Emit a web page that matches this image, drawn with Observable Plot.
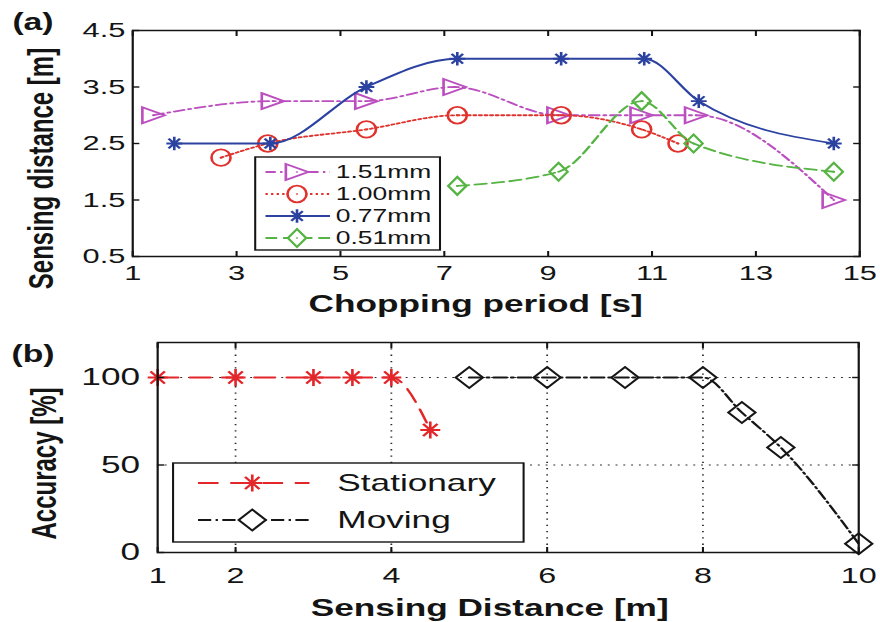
<!DOCTYPE html>
<html><head><meta charset="utf-8">
<script src="https://cdn.jsdelivr.net/npm/d3@7"></script>
<script src="https://cdn.jsdelivr.net/npm/@observablehq/plot@0.6"></script>
<style>
html,body{margin:0;padding:0;background:#fff;}
#wrap{position:relative;width:880px;height:622px;overflow:hidden;background:#fff;}
#wrap svg{display:block;}
</style></head><body><div id="wrap"></div>
<script>
// ---------- data: panel (a) ----------
const seriesNames = ["1.51mm", "1.00mm", "0.77mm", "0.51mm"];
const period151 = [1.4, 3.7, 5.5, 7.2, 9.2, 10.8, 11.85, 14.5];
const dist151   = [3.0, 3.25, 3.25, 3.5, 3.0, 3.0, 3.0, 1.5];
const period100 = [2.7, 3.6, 5.5, 7.25, 9.25, 10.8, 11.5];
const dist100   = [2.25, 2.5, 2.75, 3.0, 3.0, 2.75, 2.5];
const period077 = [1.8, 3.65, 5.5, 7.25, 9.25, 10.85, 11.9, 14.5];
const dist077   = [2.5, 2.5, 3.5, 4.0, 4.0, 4.0, 3.25, 2.5];
const period051 = [7.25, 9.2, 10.8, 11.8, 14.5];
const dist051   = [1.75, 2.0, 3.25, 2.5, 2.0];
const xTicksA = [1, 3, 5, 7, 9, 11, 13, 15];
const yTicksA = [0.5, 1.5, 2.5, 3.5, 4.5];

// ---------- data: panel (b) ----------
const modeNames = ["Stationary", "Moving"];
const statDist = [1, 2, 3, 3.5, 4, 4.5];
const statAcc  = [100, 100, 100, 100, 100, 70];
const moveDist = [5, 6, 7, 8, 8.5, 9, 10];
const moveAcc  = [100, 100, 100, 100, 80, 60, 5];
const xTicksB = [1, 2, 4, 6, 8, 10];
const yTicksB = [0, 50, 100];
const xGridB = [2, 4, 6, 8];
const yGridB = [50, 100];

// ---------- styling ----------
const FONT = "'Liberation Sans', Arial, sans-serif";
const INK = "#141414";
const W = 600; // drawing width, stretched to 880 px like the original figure

// marker shapes
const triRight = (w, h) => ({draw(c) { c.moveTo(-w, -h); c.lineTo(w, 0); c.lineTo(-w, h); c.closePath(); }});
const ellipse = (rx, ry) => ({draw(c) {
  const k = 0.5523;
  c.moveTo(rx, 0);
  c.bezierCurveTo(rx, ry * k, rx * k, ry, 0, ry);
  c.bezierCurveTo(-rx * k, ry, -rx, ry * k, -rx, 0);
  c.bezierCurveTo(-rx, -ry * k, -rx * k, -ry, 0, -ry);
  c.bezierCurveTo(rx * k, -ry, rx, -ry * k, rx, 0);
  c.closePath();
}});
const diamond = (w, h) => ({draw(c) { c.moveTo(0, -h); c.lineTo(w, 0); c.lineTo(0, h); c.lineTo(-w, 0); c.closePath(); }});
const asterisk = (w, h) => ({draw(c) {
  c.moveTo(-w, 0); c.lineTo(w, 0); c.moveTo(0, -h); c.lineTo(0, h);
  const a = w * 0.72, b = h * 0.72;
  c.moveTo(-a, -b); c.lineTo(a, b); c.moveTo(-a, b); c.lineTo(a, -b);
}});
const dot = (r) => ({draw(c) { c.moveTo(r, 0); c.arc(0, 0, r, 0, 2 * Math.PI); }});

const styleA = [
  {name: seriesNames[0], xs: period151, ys: dist151, color: "#bb4fbf", dash: "7,3,1.6,3", symbol: triRight(7.6, 8), inner: true},
  {name: seriesNames[1], xs: period100, ys: dist100, color: "#e0322d", dash: "1.6,2.2", symbol: ellipse(6.5, 8.3), inner: true},
  {name: seriesNames[2], xs: period077, ys: dist077, color: "#2c42a0", dash: null, symbol: asterisk(5.4, 6.8)},
  {name: seriesNames[3], xs: period051, ys: dist051, color: "#55b443", dash: "8,4", symbol: diamond(6.2, 9), inner: true}
];
const styleB = [
  {name: modeNames[0], xs: statDist, ys: statAcc, color: "#e3262a", dash: "14,8", symbol: asterisk(6.8, 8.5)},
  {name: modeNames[1], xs: moveDist, ys: moveAcc, color: "#161616", dash: "9,3,1.6,3", symbol: diamond(9.2, 10.5)}
];

function symPath(s) { const p = d3.path(); s.draw(p, 0); return p.toString(); }

function legend(items, box, o) {
  return () => {
    const g = d3.create("svg:g").attr("font-family", FONT).attr("text-anchor", "start");
    g.append("rect").attr("x", box.x).attr("y", box.y).attr("width", box.w).attr("height", box.h)
      .attr("fill", "white").attr("stroke", INK).attr("stroke-width", 1.4);
    items.forEach((it, i) => {
      const y = box.y + o.y0 + i * o.dy;
      g.append("line").attr("x1", box.x + o.l0).attr("x2", box.x + o.l1).attr("y1", y).attr("y2", y)
        .attr("stroke", it.color).attr("stroke-width", 1.8).attr("stroke-dasharray", it.dash);
      const mx = box.x + o.m;
      g.append("path").attr("d", symPath(it.symbol)).attr("transform", `translate(${mx},${y})`)
        .attr("fill", "white").attr("stroke", it.color).attr("stroke-width", 1.8);
      if (it.inner) g.append("path").attr("d", symPath(dot(0.8))).attr("transform", `translate(${mx},${y})`).attr("fill", it.color);
      g.append("text").attr("x", box.x + o.t).attr("y", y).attr("dy", "0.35em").attr("text-anchor", "start")
        .attr("font-size", o.fs).attr("fill", INK).text(it.name);
    });
    return g.node();
  };
}

function seriesMarks(s) {
  const rows = s.xs.map((x, i) => ({x, y: s.ys[i]}));
  const marks = [
    Plot.line(rows, {x: "x", y: "y", stroke: s.color, strokeWidth: 1.8, strokeDasharray: s.dash, curve: "monotone-x"}),
    Plot.dot(rows, {x: "x", y: "y", symbol: s.symbol, r: 4, stroke: s.color, strokeWidth: 1.8, fill: "none"})
  ];
  if (s.inner) marks.push(Plot.dot(rows, {x: "x", y: "y", r: 0.9, fill: s.color, stroke: "none"}));
  return marks;
}

function stretch(svg, h, top) {
  svg.setAttribute("width", 880);
  svg.setAttribute("height", h);
  svg.setAttribute("viewBox", `0 0 ${W} ${h}`);
  svg.setAttribute("preserveAspectRatio", "none");
  svg.style.width = "880px"; svg.style.height = h + "px"; svg.style.maxWidth = "none";
  svg.style.position = "absolute"; svg.style.left = "0px"; svg.style.top = top + "px";
  svg.style.background = "transparent";
  return svg;
}

const tickOnly = {tickFormat: () => "", label: null, strokeWidth: 1.4, stroke: INK};
const lab = {textAnchor: "middle", lineAnchor: "middle", fontWeight: "bold", fill: INK};

// ---------- panel (a) ----------
const plotA = Plot.plot({
  width: W, height: 320,
  marginTop: 30, marginBottom: 64, marginLeft: 90, marginRight: 14.3,
  x: {domain: [1, 15], label: null},
  y: {domain: [0.5, 4.5], label: null},
  style: {fontFamily: FONT, color: INK, background: "transparent", overflow: "visible"},
  marks: [
    ...styleA.flatMap(seriesMarks),
    Plot.axisX(xTicksA, {anchor: "bottom", tickSize: 0, tickPadding: 9, fontSize: 21, label: null, fill: INK}),
    Plot.axisX(xTicksA, {anchor: "bottom", tickSize: -5, ...tickOnly}),
    Plot.axisX(xTicksA, {anchor: "top", tickSize: -5, ...tickOnly}),
    Plot.axisY(yTicksA, {anchor: "left", tickSize: 0, tickPadding: 5, fontSize: 21, label: null, fill: INK}),
    Plot.axisY(yTicksA, {anchor: "left", tickSize: -5, ...tickOnly}),
    Plot.axisY(yTicksA, {anchor: "right", tickSize: -5, ...tickOnly}),
    Plot.frame({stroke: INK, strokeWidth: 1.5}),
    legend(styleA, {x: 174, y: 157, w: 126, h: 93}, {y0: 15, dy: 22, l0: 7, l1: 51, m: 28.5, t: 55, fs: 18}),
    Plot.text(["(a)"], {frameAnchor: "top-left", dx: -68, dy: -8, fontSize: 23, ...lab}),
    Plot.text(["Sensing distance [m]"], {frameAnchor: "left", rotate: -90, dx: -62, dy: 25, fontSize: 24, ...lab}),
    Plot.text(["Chopping period [s]"], {frameAnchor: "bottom", dx: -14, dy: 48, fontSize: 24, ...lab})
  ]
});

// ---------- panel (b) ----------
const plotB = Plot.plot({
  width: W, height: 302,
  marginTop: 22, marginBottom: 70, marginLeft: 107, marginRight: 15,
  x: {domain: [1, 10], label: null},
  y: {domain: [0, 120], label: null},
  style: {fontFamily: FONT, color: INK, background: "transparent", overflow: "visible"},
  marks: [
    Plot.gridX(xGridB, {stroke: INK, strokeOpacity: 0.9, strokeWidth: 1.2, strokeDasharray: "1.3,5"}),
    Plot.gridY(yGridB, {stroke: INK, strokeOpacity: 0.9, strokeWidth: 1.2, strokeDasharray: "1.3,4"}),
    ...styleB.flatMap(seriesMarks),
    Plot.axisX(xTicksB, {anchor: "bottom", tickSize: 0, tickPadding: 15, fontSize: 22, label: null, fill: INK}),
    Plot.axisX(xTicksB, {anchor: "bottom", tickSize: -5, ...tickOnly}),
    Plot.axisX(xTicksB, {anchor: "top", tickSize: -5, ...tickOnly}),
    Plot.axisY(yTicksB, {anchor: "left", tickSize: 0, tickPadding: 12, fontSize: 24, label: null, fill: INK}),
    Plot.axisY(yTicksB, {anchor: "left", tickSize: -5, ...tickOnly}),
    Plot.axisY(yTicksB, {anchor: "right", tickSize: -5, ...tickOnly}),
    Plot.frame({stroke: INK, strokeWidth: 1.5}),
    legend(styleB, {x: 118, y: 143, w: 239, h: 79}, {y0: 20, dy: 37, l0: 17, l1: 93, m: 54, t: 112, fs: 24}),
    Plot.text(["(b)"], {frameAnchor: "top-left", dx: -85, dy: 12, fontSize: 23, ...lab}),
    Plot.text(["Accuracy [%]"], {frameAnchor: "left", rotate: -90, dx: -77, dy: 16, fontSize: 24, ...lab}),
    Plot.text(["Sensing Distance [m]"], {frameAnchor: "bottom", dx: -12.6, dy: 55.5, fontSize: 24, ...lab})
  ]
});

const wrap = document.getElementById("wrap");
wrap.appendChild(stretch(plotA, 320, 0));
wrap.appendChild(stretch(plotB, 302, 320));
</script>
</body></html>
